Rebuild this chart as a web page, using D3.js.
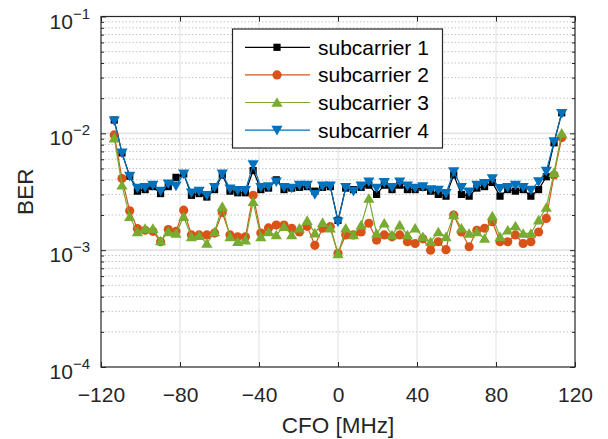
<!DOCTYPE html>
<html>
<head>
<meta charset="utf-8">
<script src="https://cdn.jsdelivr.net/npm/d3@7"></script>
<style>
  html, body { margin: 0; padding: 0; background: #fff; }
  svg { display: block; font-family: "Liberation Sans", Arial, Helvetica, sans-serif; }
</style>
</head>
<body>
<svg id="chart" width="608" height="439"></svg>
<script>
// CFO sweep: 59 offsets spaced by 3.90625 MHz, from -113.28 to +113.28 MHz
const cfoStep = 3.90625;
const cfo = d3.range(-29, 30).map(k => k * cfoStep);

const seriesNames = ["subcarrier 1", "subcarrier 2", "subcarrier 3", "subcarrier 4"];

const ber1 = [1.3e-2, 6.8e-3, 4.3e-3, 3.2e-3, 3.3e-3, 3.5e-3, 3.05e-3, 3.5e-3, 4.2e-3, 4.5e-3,
  2.95e-3, 3.05e-3, 2.85e-3, 3.3e-3, 4.4e-3, 3.2e-3, 3.1e-3, 3.1e-3, 4.8e-3, 3.3e-3,
  3.4e-3, 4.0e-3, 3.3e-3, 3.4e-3, 3.45e-3, 3.5e-3, 3.2e-3, 3.45e-3, 3.5e-3, 1.8e-3,
  3.4e-3, 3.3e-3, 3.45e-3, 3.6e-3, 3.0e-3, 3.6e-3, 3.3e-3, 3.6e-3, 3.3e-3, 3.3e-3,
  3.45e-3, 3.2e-3, 3.0e-3, 2.9e-3, 4.4e-3, 3.0e-3, 2.9e-3, 3.4e-3, 3.5e-3, 3.8e-3,
  2.9e-3, 3.3e-3, 3.2e-3, 3.3e-3, 2.9e-3, 3.3e-3, 4.25e-3, 8.3e-3, 1.5e-2];

const ber2 = [9.7e-3, 4.1e-3, 2.17e-3, 1.53e-3, 1.48e-3, 1.45e-3, 1.18e-3, 1.5e-3, 1.45e-3, 2.2e-3,
  1.35e-3, 1.35e-3, 1.35e-3, 1.4e-3, 2.1e-3, 1.35e-3, 1.3e-3, 1.3e-3, 2.95e-3, 1.4e-3,
  1.55e-3, 1.64e-3, 1.64e-3, 1.54e-3, 1.43e-3, 1.6e-3, 1.1e-3, 1.54e-3, 1.59e-3, 9.4e-4,
  1.35e-3, 1.35e-3, 1.43e-3, 1.7e-3, 1.22e-3, 1.35e-3, 1.3e-3, 1.35e-3, 1.18e-3, 1.14e-3,
  1.25e-3, 1.0e-3, 1.18e-3, 1.01e-3, 2.0e-3, 1.43e-3, 1.07e-3, 1.48e-3, 1.54e-3, 1.75e-3,
  1.18e-3, 1.18e-3, 1.35e-3, 1.14e-3, 1.18e-3, 1.43e-3, 1.87e-3, 4.4e-3, 9.2e-3];

const ber3 = [9.1e-3, 3.6e-3, 1.93e-3, 1.43e-3, 1.53e-3, 1.53e-3, 1.2e-3, 1.43e-3, 1.39e-3, 1.93e-3,
  1.3e-3, 1.33e-3, 1.14e-3, 1.43e-3, 2.36e-3, 1.3e-3, 1.18e-3, 1.22e-3, 2.6e-3, 1.3e-3,
  1.43e-3, 1.35e-3, 1.59e-3, 1.35e-3, 1.54e-3, 1.79e-3, 1.4e-3, 1.72e-3, 1.54e-3, 9.3e-4,
  1.54e-3, 1.35e-3, 1.64e-3, 2.77e-3, 1.39e-3, 1.7e-3, 1.35e-3, 1.64e-3, 1.35e-3, 1.54e-3,
  1.3e-3, 1.18e-3, 1.43e-3, 1.3e-3, 2.0e-3, 1.54e-3, 1.39e-3, 1.43e-3, 1.26e-3, 1.96e-3,
  1.3e-3, 1.48e-3, 1.61e-3, 1.39e-3, 1.39e-3, 1.81e-3, 2.32e-3, 4.6e-3, 1.0e-2];

const ber4 = [1.28e-2, 6.8e-3, 4.3e-3, 3.4e-3, 3.45e-3, 3.6e-3, 3.2e-3, 3.7e-3, 3.55e-3, 4.5e-3,
  3.1e-3, 3.2e-3, 2.95e-3, 3.45e-3, 4.5e-3, 3.35e-3, 3.25e-3, 3.25e-3, 5.4e-3, 3.45e-3,
  3.5e-3, 3.85e-3, 3.45e-3, 3.4e-3, 3.6e-3, 3.6e-3, 3.0e-3, 3.55e-3, 3.55e-3, 1.75e-3,
  3.45e-3, 3.2e-3, 3.55e-3, 3.85e-3, 3.4e-3, 3.8e-3, 3.45e-3, 3.85e-3, 3.55e-3, 3.4e-3,
  3.5e-3, 3.3e-3, 3.27e-3, 3.06e-3, 4.7e-3, 3.45e-3, 3.16e-3, 3.6e-3, 3.73e-3, 4.1e-3,
  3.38e-3, 3.45e-3, 3.6e-3, 3.45e-3, 3.27e-3, 3.86e-3, 4.75e-3, 8.5e-3, 1.48e-2];

const xTicks = [-120, -80, -40, 0, 40, 80, 120];
const yTickExponents = [-4, -3, -2, -1];

const series = [
  { name: seriesNames[0], values: ber1, color: "#000000", marker: "square" },
  { name: seriesNames[1], values: ber2, color: "#D95319", marker: "circle" },
  { name: seriesNames[2], values: ber3, color: "#77AC30", marker: "triUp" },
  { name: seriesNames[3], values: ber4, color: "#0072BD", marker: "triDown" }
];

const svg = d3.select("#chart");
const plot = { left: 101, right: 575, top: 16.5, bottom: 367 };
const axisColor = "#262626";

const x = d3.scaleLinear().domain([-120, 120]).range([plot.left, plot.right]);
const y = d3.scaleLog().domain([1e-4, 1e-1]).range([plot.bottom, plot.top]);

const majorY = yTickExponents.map(e => Math.pow(10, e));
const minorY = [];
yTickExponents.slice(0, -1).forEach(e => {
  for (let m = 2; m <= 9; m++) minorY.push(m * Math.pow(10, e));
});

// grid
const grid = svg.append("g");
grid.selectAll(".minor").data(minorY).join("line")
  .attr("x1", plot.left).attr("x2", plot.right)
  .attr("y1", d => y(d)).attr("y2", d => y(d))
  .attr("stroke", "#c4c4c4").attr("stroke-width", 1)
  .attr("stroke-dasharray", "1.5,2");
grid.selectAll(".majorY").data(majorY.slice(1, -1)).join("line")
  .attr("x1", plot.left).attr("x2", plot.right)
  .attr("y1", d => y(d)).attr("y2", d => y(d))
  .attr("stroke", "#e3e3e3").attr("stroke-width", 1.6);
grid.selectAll(".majorX").data(xTicks.slice(1, -1)).join("line")
  .attr("x1", d => x(d)).attr("x2", d => x(d))
  .attr("y1", plot.top).attr("y2", plot.bottom)
  .attr("stroke", "#e0e0e0").attr("stroke-width", 1);

// data
const line = d3.line().x((d, i) => x(cfo[i])).y(d => y(d));

function drawMarker(g, type, color, cx, cy) {
  if (type === "square") {
    g.append("rect").attr("x", cx - 3.6).attr("y", cy - 3.6)
      .attr("width", 7.2).attr("height", 7.2).attr("fill", color);
  } else if (type === "circle") {
    g.append("circle").attr("cx", cx).attr("cy", cy).attr("r", 4.6).attr("fill", color);
  } else {
    const up = type === "triUp";
    const w = 5.6, h = 9.6;
    const pts = up
      ? [[cx, cy - h * 0.55], [cx + w, cy + h * 0.45], [cx - w, cy + h * 0.45]]
      : [[cx, cy + h * 0.55], [cx + w, cy - h * 0.45], [cx - w, cy - h * 0.45]];
    g.append("polygon").attr("points", pts.map(p => p.join(",")).join(" ")).attr("fill", color);
  }
}

const dataG = svg.append("g");
series.forEach(s => {
  const g = dataG.append("g");
  g.append("path").datum(s.values).attr("d", line)
    .attr("fill", "none").attr("stroke", s.color).attr("stroke-width", 1.2);
  s.values.forEach((v, i) => drawMarker(g, s.marker, s.color, x(cfo[i]), y(v)));
});

// axes frame and ticks
const axG = svg.append("g").attr("color", axisColor);
const tickStyle = sel => {
  sel.select(".domain").remove();
  sel.selectAll(".tick line").attr("stroke", axisColor).attr("stroke-width", 1);
};
axG.append("g").attr("transform", `translate(0,${plot.bottom})`)
  .call(d3.axisBottom(x).tickValues(xTicks).tickSize(-5).tickPadding(20)
    .tickFormat(d3.format("d")))
  .call(tickStyle)
  .call(g => g.selectAll("text").attr("font-size", 21).attr("fill", axisColor)
    .attr("font-family", "'Liberation Sans', Arial, sans-serif"));
axG.append("g").attr("transform", `translate(0,${plot.top})`)
  .call(d3.axisTop(x).tickValues(xTicks).tickSize(-5).tickFormat(""))
  .call(tickStyle);

[[d3.axisLeft, plot.left], [d3.axisRight, plot.right]].forEach(([ax, pos]) => {
  axG.append("g").attr("transform", `translate(${pos},0)`)
    .call(ax(y).tickValues(majorY).tickSize(-5).tickFormat(""))
    .call(tickStyle);
  axG.append("g").attr("transform", `translate(${pos},0)`)
    .call(ax(y).tickValues(minorY).tickSize(-3).tickFormat(""))
    .call(tickStyle);
});

axG.append("rect")
  .attr("x", plot.left).attr("y", plot.top)
  .attr("width", plot.right - plot.left).attr("height", plot.bottom - plot.top)
  .attr("fill", "none").attr("stroke", axisColor).attr("stroke-width", 1.2);

// y tick labels with exponent superscripts
const yLab = svg.append("g").attr("fill", axisColor);
yTickExponents.forEach(e => {
  const t = yLab.append("text")
    .attr("x", 90).attr("y", y(Math.pow(10, e)) + 12)
    .attr("text-anchor", "end").attr("font-size", 21);
  t.append("tspan").text("10");
  t.append("tspan").attr("font-size", 15).attr("dy", -10).text("\u2212" + Math.abs(e));
});

// axis titles
svg.append("text")
  .attr("x", (plot.left + plot.right) / 2).attr("y", 433)
  .attr("text-anchor", "middle").attr("font-size", 22.5).attr("fill", axisColor)
  .text("CFO [MHz]");
svg.append("text")
  .attr("transform", `translate(33,${(plot.top + plot.bottom) / 2}) rotate(-90)`)
  .attr("text-anchor", "middle").attr("font-size", 22.5).attr("fill", axisColor)
  .text("BER");

// legend
const legend = svg.append("g");
legend.append("rect")
  .attr("x", 232.5).attr("y", 29).attr("width", 210).attr("height", 119)
  .attr("fill", "#fff").attr("stroke", axisColor).attr("stroke-width", 1.2);
series.forEach((s, i) => {
  const cy = 47.3 + i * 27.6;
  legend.append("line").attr("x1", 245).attr("x2", 310).attr("y1", cy).attr("y2", cy)
    .attr("stroke", s.color).attr("stroke-width", 1.2);
  drawMarker(legend, s.marker, s.color, 277, cy);
  legend.append("text").attr("x", 318).attr("y", cy + 7.5)
    .attr("font-size", 21).attr("fill", "#000").text(s.name);
});
</script>
</body>
</html>
